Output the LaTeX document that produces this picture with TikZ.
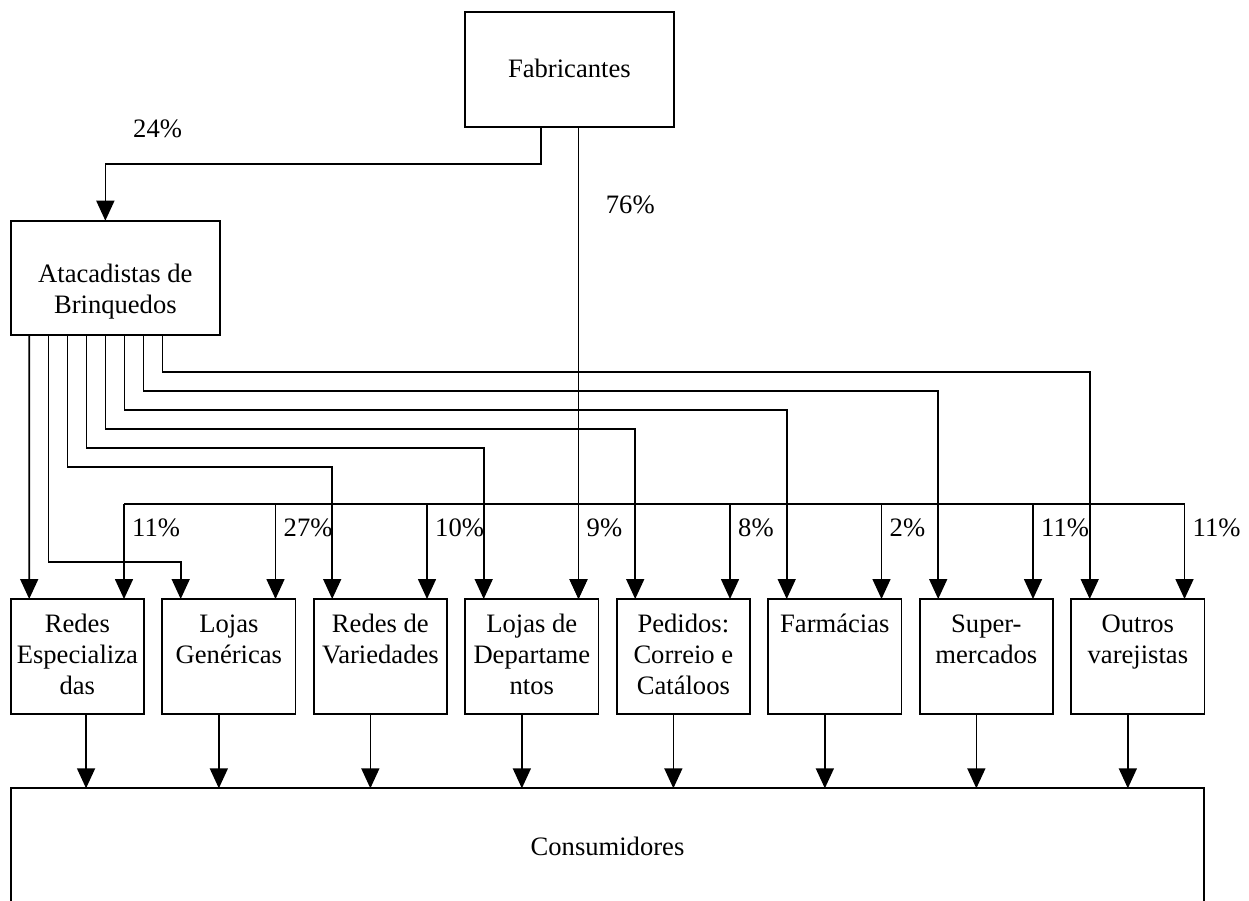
\documentclass[tikz,border=0pt]{standalone}
\usepackage{fontspec}
\setmainfont{Liberation Serif}
\usetikzlibrary{arrows.meta,calc}
\begin{document}
\begin{tikzpicture}[x=1pt,y=-1pt,
  wire/.style={line width=1.6pt},
  arr/.style={wire,-{Triangle[width=18pt,length=20pt]}},
  box/.style={draw,line width=1.7pt,inner sep=0pt,outer sep=0pt},
  rbox/.style={box,minimum width=133.3pt,minimum height=114.7pt},
  lbl/.style={inner sep=0pt,font=\fontsize{26.6}{31}\selectfont},
  btext/.style={lbl,anchor=north,align=center},
  pct/.style={lbl,anchor=base west}]
\clip (0,0) rectangle (1249,900);

% producers and wholesalers
\node[box,minimum width=208.7pt,minimum height=114.4pt] (fab) at (569.35,69.5) {};
\node[lbl,anchor=base] (fabt) at (569.35,77.3) {Fabricantes};
\node[box,minimum width=209.3pt,minimum height=114pt] (ata) at (115.35,277.7) {};
\node[btext] (atat) at ([yshift=-40.3pt]ata.north) {\strut Atacadistas de\\Brinquedos};

% retail channels
\node[rbox] (r1) at (77.35,656.35) {};
\node[rbox] (r2) at (228.85,656.35) {};
\node[rbox] (r3) at (380.35,656.35) {};
\node[rbox] (r4) at (531.85,656.35) {};
\node[rbox] (r5) at (683.35,656.35) {};
\node[rbox] (r6) at (834.85,656.35) {};
\node[rbox] (r7) at (986.35,656.35) {};
\node[rbox] (r8) at (1137.85,656.35) {};
\node[btext] (t1) at ([yshift=-11.3pt]r1.north) {\strut Redes\\Especializa\\das};
\node[btext] (t2) at ([yshift=-11.3pt]r2.north) {\strut Lojas\\Genéricas};
\node[btext] (t3) at ([yshift=-11.3pt]r3.north) {\strut Redes de\\Variedades};
\node[btext] (t4) at ([yshift=-11.3pt]r4.north) {\strut Lojas de\\Departame\\ntos};
\node[btext] (t5) at ([yshift=-11.3pt]r5.north) {\strut Pedidos:\\Correio e\\Catáloos};
\node[btext] (t6) at ([yshift=-11.3pt]r6.north) {\strut Farmácias};
\node[btext] (t7) at ([yshift=-11.3pt]r7.north) {\strut Super-\\mercados};
\node[btext] (t8) at ([yshift=-11.3pt]r8.north) {\strut Outros\\varejistas};

% consumers (box runs past the lower edge)
\node[box,anchor=north west,minimum width=1193pt,minimum height=160pt] (cons) at (11,788.3) {};
\node[lbl,anchor=base] (const) at (607.5,855.3) {Consumidores};

% entry points on top of each retail box
\foreach \i in {1,...,8}{
  \coordinate (w\i) at ([xshift=18.5pt]r\i.north west);
  \coordinate (d\i) at ([xshift=113.3pt]r\i.north west);
}

% manufacturers -> wholesalers (24%)
\draw[arr] ([xshift=-28.65pt]fab.south) -- ++(0,37) -| ([xshift=-10pt]ata.north);
\node[lbl,anchor=base west] (p24) at (133,137.3) {24\%};

% manufacturers -> retail (76%)
\draw[arr] (fab.south -| d4) -- (d4);
\node[lbl,anchor=base west] (p76) at (605.7,213.3) {76\%};

% wholesalers -> each retail channel
\draw[arr] ([xshift=18.6pt]ata.south west) -- (w1);
\draw[arr] ([xshift=37.6pt]ata.south west) -- ++(0,227) -| (w2);
\foreach \k/\dy in {3/132,4/113,5/94,6/75,7/56,8/37}{
  \draw[arr] ([xshift={18.6+19*(\k-1)}]ata.south west) -- ++(0,\dy) -| (w\k);
}

% direct distribution bus
\draw[wire] ($(d1)+(0,-95)$) -- ($(d8)+(0,-95)$);
\foreach \i/\p in {1/11,2/27,3/10,4/9,5/8,6/2,7/11,8/11}{
  \draw[arr] ($(d\i)+(0,-95)$) -- (d\i);
  \node[pct] (q\i) at ($(d\i)+(8,-63)$) {\p\%};
}

% retail -> consumers
\draw[arr] ([xshift=8.7pt]r1.south) -- ([xshift=8.7pt]r1.south |- cons.north);
\foreach \i in {2,...,8}{
  \draw[arr] ([xshift=-10pt]r\i.south) -- ([xshift=-10pt]r\i.south |- cons.north);
}
\end{tikzpicture}
\end{document}
